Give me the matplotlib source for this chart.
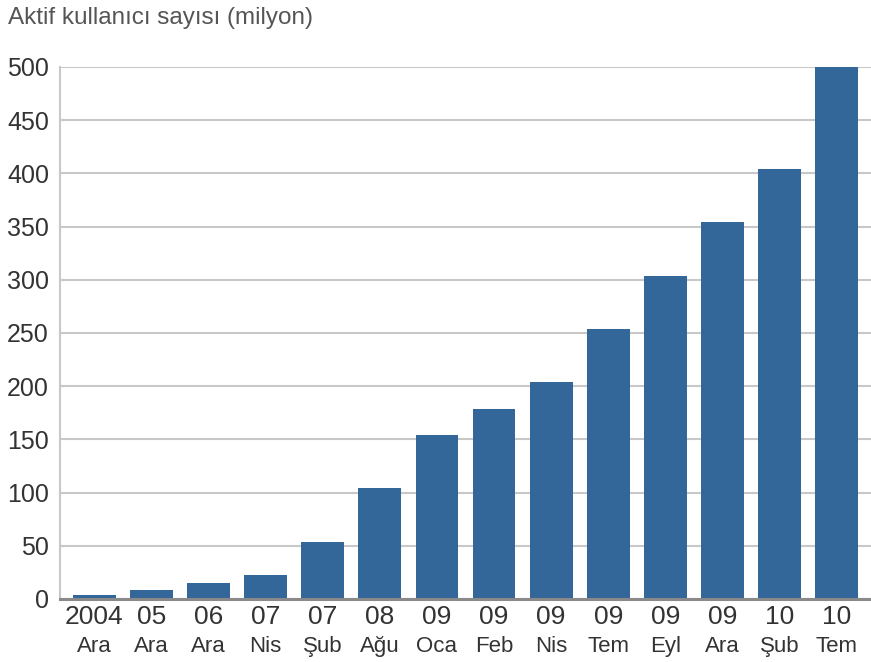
import matplotlib.pyplot as plt
import numpy as np

plt.rcParams['font.family'] = ['Liberation Sans', 'DejaVu Sans']

# Active users (millions) per reporting date
years = ["2004", "05", "06", "07", "07", "08", "09", "09", "09", "09", "09", "09", "10", "10"]
months = ["Ara", "Ara", "Ara", "Nis", "Şub", "Ağu", "Oca", "Feb", "Nis", "Tem", "Eyl", "Ara", "Şub", "Tem"]
users = [4, 8, 15, 23, 54, 104, 154, 179, 204, 254, 304, 354, 404, 500]
yticks = [0, 50, 100, 150, 200, 250, 300, 350, 400, 450, 500]

bar_color = "#346799"
text_color = "#333333"

fig = plt.figure(figsize=(8.71, 6.62), dpi=100)
ax = fig.add_axes([60 / 871, 63 / 662, 811 / 871, 532 / 662])

x = np.arange(len(users))
ax.bar(x, users, width=0.75, color=bar_color, zorder=3)

ax.set_xlim(-0.6, len(users) - 0.4)
ax.set_ylim(0, 500)
ax.set_yticks(yticks)
ax.set_yticklabels([str(v) for v in yticks], fontsize=18, color=text_color)
ax.tick_params(axis="y", length=0, pad=8)
ax.set_xticks([])

ax.grid(axis="y", color="#c8c8c8", linewidth=1.5, zorder=0)
for side in ["top", "right"]:
    ax.spines[side].set_visible(False)
ax.spines["left"].set_color("#c8c8c8")
ax.spines["left"].set_linewidth(1.5)
ax.spines["bottom"].set_color("#8a8a8a")
ax.spines["bottom"].set_linewidth(2.2)
ax.spines["bottom"].set_zorder(4)

# two-line category labels: year on top, month below
for xi, yr, mo in zip(x, years, months):
    ax.annotate(yr, xy=(xi, 0), xycoords=("data", "axes fraction"),
                xytext=(0, -13), textcoords="offset points",
                ha="center", va="center", fontsize=19, color=text_color)
    ax.annotate(mo, xy=(xi, 0), xycoords=("data", "axes fraction"),
                xytext=(0, -34), textcoords="offset points",
                ha="center", va="center", fontsize=16, color=text_color)

fig.text(8 / 871, 1 - 18 / 662, "Aktif kullanıcı sayısı (milyon)",
         ha="left", va="center", fontsize=17.5, color="#555555")

fig.savefig("out.png", dpi=100)
